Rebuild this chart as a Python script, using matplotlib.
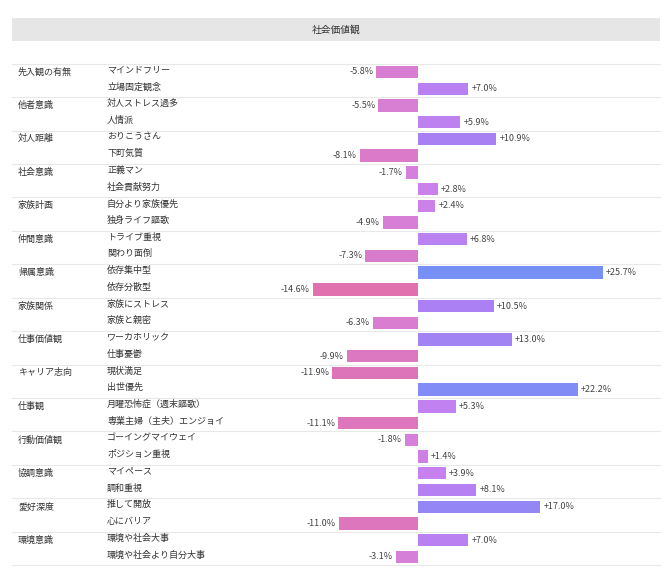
import matplotlib
matplotlib.use("Agg")
import matplotlib.pyplot as plt
from matplotlib.colors import LinearSegmentedColormap
from matplotlib.patches import Rectangle

plt.rcParams['font.family'] = ['Noto Sans CJK JP', 'DejaVu Sans']

title = "社会価値観"
groups = ["先入観の有無", "他者意識", "対人距離", "社会意識", "家族計画", "仲間意識", "帰属意識",
          "家族関係", "仕事価値観", "キャリア志向", "仕事観", "行動価値観", "協調意識", "愛好深度", "環境意識"]
items = ["マインドフリー", "立場固定観念", "対人ストレス過多", "人情派", "おりこうさん", "下町気質",
         "正義マン", "社会貢献努力", "自分より家族優先", "独身ライフ謳歌", "トライブ重視", "関わり面倒",
         "依存集中型", "依存分散型", "家族にストレス", "家族と親密", "ワーカホリック", "仕事憂鬱",
         "現状満足", "出世優先", "月曜恐怖症（週末謳歌）", "専業主婦（主夫）エンジョイ",
         "ゴーイングマイウェイ", "ポジション重視", "マイペース", "調和重視", "推して開放", "心にバリア",
         "環境や社会大事", "環境や社会より自分大事"]
values = [-5.8, 7.0, -5.5, 5.9, 10.9, -8.1, -1.7, 2.8, 2.4, -4.9, 6.8, -7.3, 25.7, -14.6,
          10.5, -6.3, 13.0, -9.9, -11.9, 22.2, 5.3, -11.1, -1.8, 1.4, 3.9, 8.1, 17.0, -11.0, 7.0, -3.1]

W, H = 672, 580
X0, SC = 418, 7.2
Y0, RH = 72, 16.72
def px(x): return (x - X0) / SC
def py(y): return (y - Y0) / RH

fig = plt.figure(figsize=(W/100, H/100), dpi=100)
ax = fig.add_axes([0, 0, 1, 1])
ax.set_xlim(px(0), px(W))
ax.set_ylim(py(H), py(0))
ax.axis('off')

cmap = LinearSegmentedColormap.from_list("c", [(0, "#e070ad"), (0.25, "#d77fd6"), (0.38, "#d280e0"),
                                               (0.45, "#c981ee"), (0.62, "#aa80f4"), (1.0, "#7590f6")])
vmin, vmax = -15, 26

# header
ax.add_patch(Rectangle((px(12), py(18)), px(660) - px(12), py(41) - py(18), color="#e6e6e6", lw=0))
ax.text(px(336), py(29.5), title, ha='center', va='center', fontsize=7, color="#333333")

n = len(values)
ys = list(range(n))
colors = [cmap((v - vmin) / (vmax - vmin)) for v in values]
ax.barh(ys, values, height=0.74, color=colors, zorder=2)

for i, (it, v) in enumerate(zip(items, values)):
    ax.text(px(107), i - 0.12, it, ha='left', va='center', fontsize=6.5, color="#333333")
    lab = f"{v:+.1f}%"
    if v >= 0:
        ax.text(v + px(421) - px(418), i, lab, ha='left', va='center', fontsize=6.5, color="#444444")
    else:
        ax.text(v - (px(421) - px(418)), i, lab, ha='right', va='center', fontsize=6.5, color="#444444")

for g, name in enumerate(groups):
    top = 2 * g - 0.5
    ax.plot([px(12), px(660)], [top, top], color="#e8e8e8", lw=0.8, zorder=1)
    ax.text(px(18), 2 * g, name, ha='left', va='center', fontsize=6.5, color="#333333")
ax.plot([px(12), px(660)], [n - 0.5, n - 0.5], color="#e8e8e8", lw=0.8, zorder=1)

fig.savefig("out.png", dpi=100, facecolor="white")
